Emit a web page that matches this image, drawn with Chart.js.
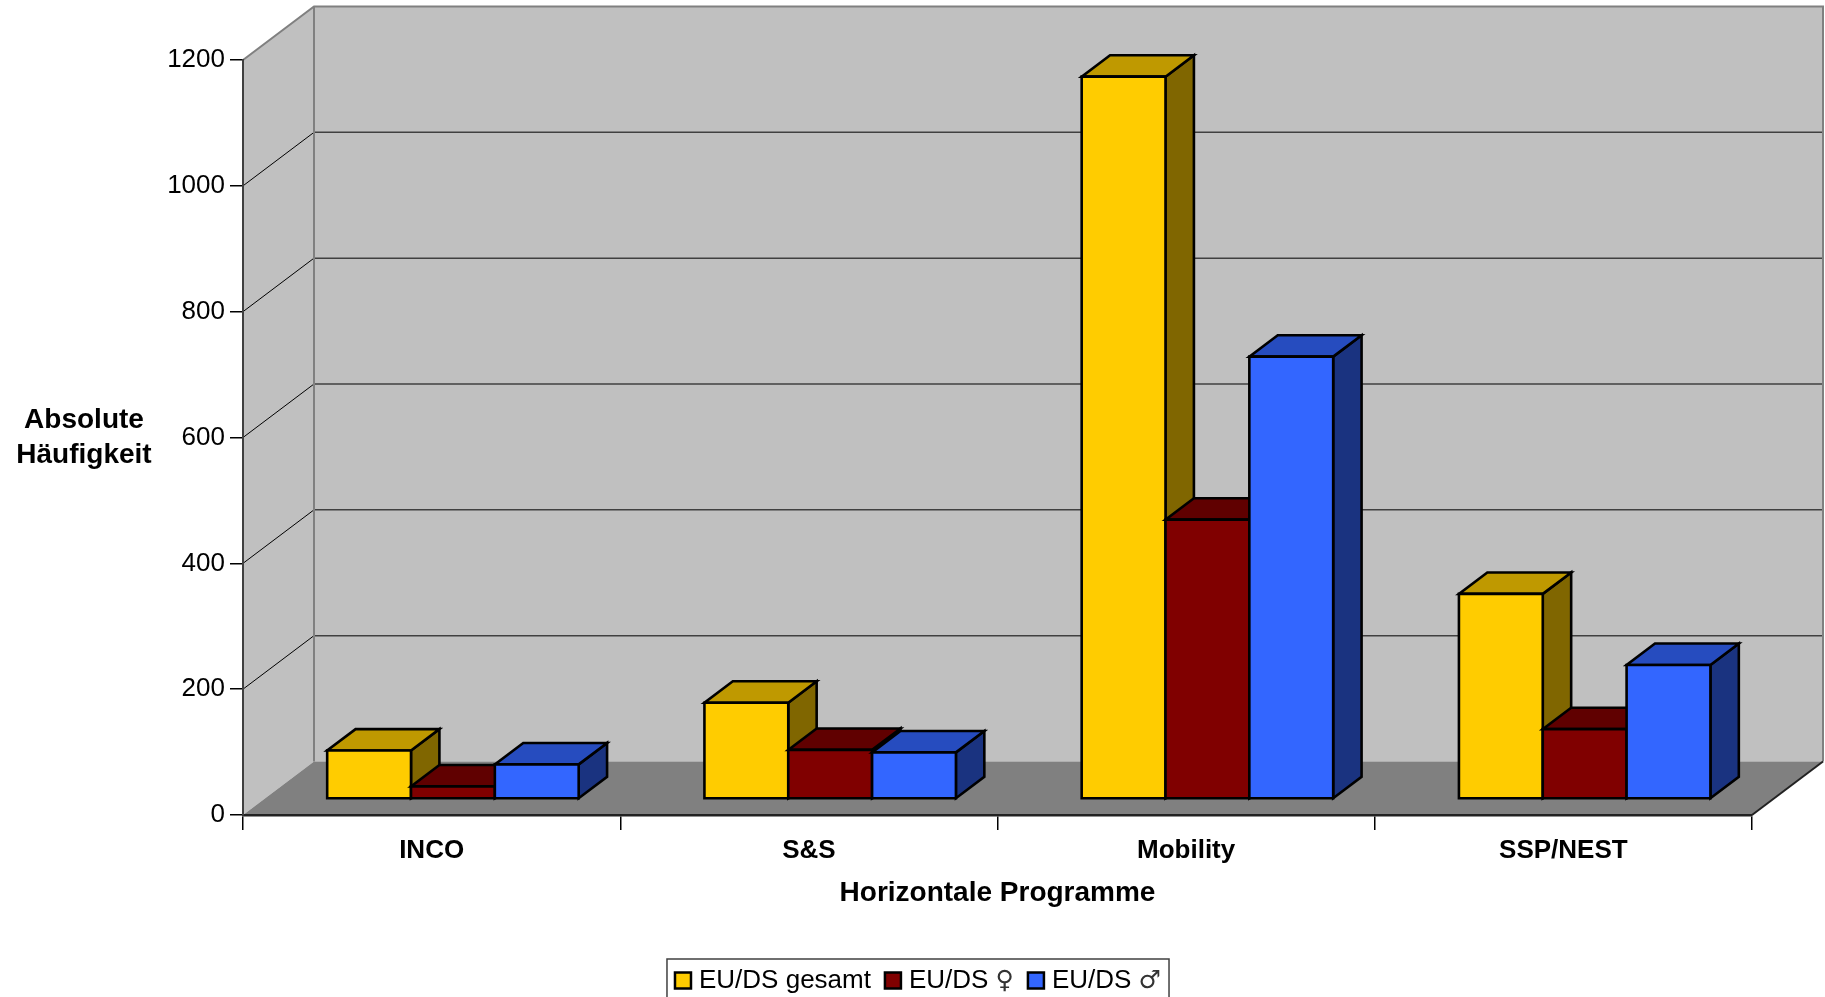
<!DOCTYPE html>
<html lang="de">
<head>
    <meta charset="UTF-8">
    <title>Horizontale Programme</title>
    <script src="https://cdn.jsdelivr.net/npm/chart.js"></script>
    <style>
        body {
            margin: 0;
            padding: 0;
            background: #ffffff;
            overflow: hidden;
        }

        .chart-box {
            position: relative;
            width: 1825px;
            height: 997px;
        }
    </style>
</head>
<body>
    <div class="chart-box">
        <canvas id="programmeChart"></canvas>
    </div>

    <script>
        // Werte je Programm
        const programmes = ['INCO', 'S&S', 'Mobility', 'SSP/NEST'];
        const gesamt = [77, 153, 1148, 326];
        const frauen = [20, 78, 444, 111];
        const maenner = [55, 74, 703, 213];
        const seriesLabels = ['EU/DS gesamt', 'EU/DS \u2640', 'EU/DS \u2642'];
        const yMin = 0;
        const yMax = 1200;
        const yStep = 200;

        const FONT = 'Arial, "Liberation Sans", "DejaVu Sans", sans-serif';
        const SYMBOL_FONT = '25px "DejaVu Sans", sans-serif';

        // 3D look: depth of the room and where the bars sit inside it
        const DEPTH_X = 71;
        const DEPTH_Y = 53.5;
        const BAR_FRONT = 0.3;  // gap in front of the bars (share of depth)
        const BAR_DEPTH = 0.4;  // bar depth (share of depth)

        const frontColors = ['#ffcc00', '#800000', '#3366ff'];
        const topColors = ['#bf9900', '#600000', '#264cbf'];
        const sideColors = ['#806600', '#400000', '#1a3380'];

        const room3d = {
            id: 'room3d',
            beforeDraw(chart) {
                const { ctx, chartArea: a, scales: { y } } = chart;
                const bx = a.left + DEPTH_X;
                const by = a.bottom - DEPTH_Y;
                const ty = a.top - DEPTH_Y;
                ctx.save();

                // left wall + back wall
                ctx.fillStyle = '#c0c0c0';
                ctx.beginPath();
                ctx.moveTo(a.left, a.top);
                ctx.lineTo(bx, ty);
                ctx.lineTo(bx, by);
                ctx.lineTo(a.left, a.bottom);
                ctx.closePath();
                ctx.fill();
                ctx.fillRect(bx, ty, a.right - a.left, a.bottom - a.top);

                // floor
                ctx.fillStyle = '#808080';
                ctx.beginPath();
                ctx.moveTo(a.left, a.bottom);
                ctx.lineTo(bx, by);
                ctx.lineTo(a.right + DEPTH_X, by);
                ctx.lineTo(a.right, a.bottom);
                ctx.closePath();
                ctx.fill();

                // gridlines on side and back wall
                y.ticks.forEach(t => {
                    if (t.value === yMin || t.value === yMax) return;
                    const py = y.getPixelForValue(t.value);
                    ctx.strokeStyle = '#000';
                    ctx.lineWidth = 1;
                    ctx.beginPath();
                    ctx.moveTo(a.left, py);
                    ctx.lineTo(bx, py - DEPTH_Y);
                    ctx.stroke();
                    ctx.strokeStyle = '#404040';
                    ctx.lineWidth = 1.5;
                    ctx.beginPath();
                    ctx.moveTo(bx, py - DEPTH_Y);
                    ctx.lineTo(a.right + DEPTH_X, py - DEPTH_Y);
                    ctx.stroke();
                });

                // outer edges of the walls
                ctx.strokeStyle = '#808080';
                ctx.lineWidth = 2;
                ctx.beginPath();
                ctx.moveTo(a.left, a.top);
                ctx.lineTo(bx, ty);
                ctx.lineTo(a.right + DEPTH_X, ty);
                ctx.lineTo(a.right + DEPTH_X, by);
                ctx.moveTo(bx, ty);
                ctx.lineTo(bx, by);
                ctx.stroke();

                // right edge of the floor
                ctx.strokeStyle = '#222';
                ctx.lineWidth = 2;
                ctx.beginPath();
                ctx.moveTo(a.right, a.bottom);
                ctx.lineTo(a.right + DEPTH_X, by);
                ctx.stroke();
                ctx.restore();
            },
            beforeDatasetsDraw(chart) {
                const ctx = chart.ctx;
                const fx = DEPTH_X * BAR_FRONT, fy = DEPTH_Y * BAR_FRONT;
                const dx = DEPTH_X * BAR_DEPTH, dy = DEPTH_Y * BAR_DEPTH;
                const metas = chart.data.datasets.map((ds, i) => chart.getDatasetMeta(i));

                const face = (pts, color) => {
                    ctx.beginPath();
                    ctx.moveTo(pts[0][0], pts[0][1]);
                    pts.slice(1).forEach(p => ctx.lineTo(p[0], p[1]));
                    ctx.closePath();
                    ctx.fillStyle = color;
                    ctx.fill();
                    ctx.stroke();
                };

                ctx.save();
                ctx.strokeStyle = '#000';
                ctx.lineWidth = 2.6;
                ctx.lineJoin = 'miter';
                chart.data.labels.forEach((_, i) => {
                    metas.forEach((meta, d) => {
                        const bar = meta.data[i];
                        if (!bar) return;
                        const { x, y, base, width } = bar.getProps(['x', 'y', 'base', 'width'], true);
                        const l = x - width / 2 + fx;
                        const r = x + width / 2 + fx;
                        const t = y - fy;
                        const b = base - fy;
                        face([[r, b], [r, t], [r + dx, t - dy], [r + dx, b - dy]], sideColors[d]);
                        face([[l, t], [r, t], [r + dx, t - dy], [l + dx, t - dy]], topColors[d]);
                        face([[l, b], [l, t], [r, t], [r, b]], frontColors[d]);
                    });
                });
                ctx.restore();
                return false;
            },
            afterDraw(chart) {
                const ctx = chart.ctx;
                ctx.save();

                // y axis title, two lines
                ctx.fillStyle = '#000';
                ctx.font = 'bold 28px ' + FONT;
                ctx.textAlign = 'center';
                ctx.textBaseline = 'alphabetic';
                ctx.fillText('Absolute', 84, 428);
                ctx.fillText('Häufigkeit', 84, 463);

                // legend with frame; gender signs get a larger symbol font
                ctx.textAlign = 'left';
                ctx.textBaseline = 'middle';
                const items = chart.data.datasets.map(ds => {
                    const last = ds.label.slice(-1);
                    const hasSign = last === '\u2640' || last === '\u2642';
                    const main = hasSign ? ds.label.slice(0, -1) : ds.label;
                    ctx.font = '26px ' + FONT;
                    const mw = ctx.measureText(main).width;
                    ctx.font = SYMBOL_FONT;
                    const sw = hasSign ? ctx.measureText(last).width : 0;
                    return { main, sign: hasSign ? last : '', mw, color: ds.backgroundColor, w: mw + sw };
                });
                const box = 16, gap = 8, itemGap = 14, pad = 8;
                const total = items.reduce((s, it) => s + box + gap + it.w, 0) + itemGap * (items.length - 1) + pad * 2;
                let x = 918 - total / 2;
                const top = 959, midY = 980.5;
                ctx.strokeStyle = '#404040';
                ctx.lineWidth = 1.5;
                ctx.strokeRect(x, top, total, 60);
                x += pad;
                items.forEach(it => {
                    ctx.fillStyle = it.color;
                    ctx.fillRect(x, midY - box / 2, box, box);
                    ctx.strokeStyle = '#000';
                    ctx.lineWidth = 2.5;
                    ctx.strokeRect(x, midY - box / 2, box, box);
                    ctx.fillStyle = '#000';
                    ctx.font = '26px ' + FONT;
                    ctx.fillText(it.main, x + box + gap, midY);
                    if (it.sign) {
                        ctx.font = SYMBOL_FONT;
                        ctx.fillStyle = '#333';
                        ctx.fillText(it.sign, x + box + gap + it.mw, midY + 1);
                    }
                    x += box + gap + it.w + itemGap;
                });
                ctx.restore();
            }
        };

        const ctx = document.getElementById('programmeChart').getContext('2d');
        const programmeChart = new Chart(ctx, {
            type: 'bar',
            data: {
                labels: programmes,
                datasets: [
                    { label: seriesLabels[0], data: gesamt, backgroundColor: frontColors[0] },
                    { label: seriesLabels[1], data: frauen, backgroundColor: frontColors[1] },
                    { label: seriesLabels[2], data: maenner, backgroundColor: frontColors[2] },
                ],
            },
            options: {
                responsive: true,
                maintainAspectRatio: false,
                animation: false,
                devicePixelRatio: 1,
                categoryPercentage: 2 / 3,
                barPercentage: 1,
                layout: {
                    padding: { top: 60, right: 73, bottom: 0, left: 0 }
                },
                plugins: {
                    legend: { display: false },
                    tooltip: { enabled: false },
                },
                scales: {
                    x: {
                        afterFit: (scale) => { scale.height = 182; },
                        grid: {
                            drawOnChartArea: false,
                            offset: true,
                            tickLength: 15,
                            color: '#000',
                            lineWidth: 1.5,
                        },
                        border: { color: '#222', width: 2.5 },
                        ticks: {
                            color: '#000',
                            padding: 5,
                            font: { family: FONT, size: 26, weight: 'bold' },
                        },
                        title: {
                            display: true,
                            text: 'Horizontale Programme',
                            color: '#000',
                            font: { family: FONT, size: 28, weight: 'bold' },
                            padding: { top: 0, bottom: 87 },
                        },
                    },
                    y: {
                        min: yMin,
                        max: yMax,
                        afterFit: (scale) => { scale.width = 243; },
                        grid: {
                            drawOnChartArea: false,
                            tickLength: 13,
                            color: '#000',
                            lineWidth: 1.5,
                        },
                        border: { color: '#404040', width: 2 },
                        ticks: {
                            stepSize: yStep,
                            color: '#000',
                            padding: 5,
                            font: { family: FONT, size: 26 },
                            callback: (value) => String(value),
                        },
                    },
                },
            },
            plugins: [room3d],
        });
    </script>
</body>
</html>
